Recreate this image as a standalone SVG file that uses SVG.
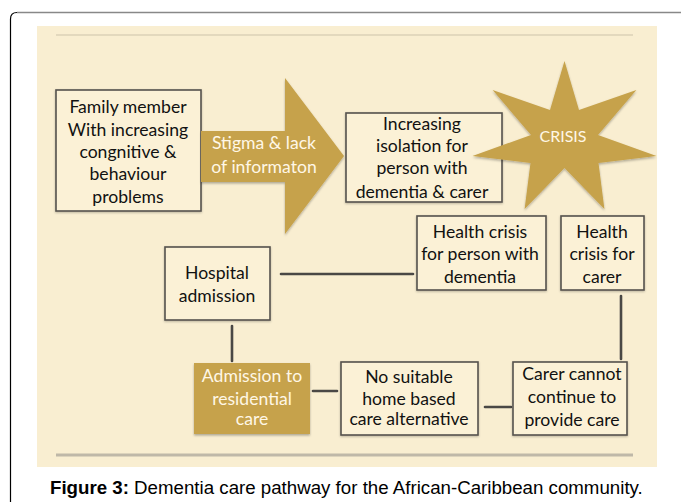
<svg xmlns="http://www.w3.org/2000/svg" width="681" height="502" viewBox="0 0 681 502">
<defs>
<filter id="sh" x="-10%" y="-10%" width="120%" height="130%">
<feDropShadow dx="0" dy="1.5" stdDeviation="1" flood-color="#000" flood-opacity="0.3"/>
</filter>
<filter id="sh2" x="-10%" y="-10%" width="120%" height="130%">
<feDropShadow dx="0" dy="1" stdDeviation="1" flood-color="#000" flood-opacity="0.25"/>
</filter>
</defs>
<style>
.box{fill:#fbf1d6;stroke:#55524d;stroke-width:1.6;filter:url(#sh2)}
.gold{fill:#c6a24b}
.t{font-family:Lato,"Open Sans",sans-serif;font-size:17.6px;fill:#111;text-anchor:middle}
.w{fill:#fff7e6}
.con{stroke:#4a4845;stroke-width:2.6;stroke-linecap:round;fill:none}
</style>
<rect width="681" height="502" fill="#fff"/>
<path d="M10.5 502 V19 Q10.5 12.5 17 12.5 H681" fill="none" stroke="#000" stroke-width="1.2"/>
<path d="M17 12.5 H681" fill="none" stroke="#888" stroke-width="1.6"/>
<rect x="37" y="26" width="620" height="441" fill="#f9eed1"/>
<line x1="56" y1="35" x2="633" y2="35" stroke="#cdc3aa" stroke-width="1"/>
<line x1="56" y1="455" x2="633" y2="455" stroke="#bfb8a8" stroke-width="3"/>

<g id="connectors">
<path class="con" d="M281 274 H413"/>
<path class="con" d="M232 326 V361"/>
<path class="con" d="M313 391 H337"/>
<path class="con" d="M485 407 H511"/>
<path class="con" d="M621 296 V359"/>
</g>

<g id="family">
<rect class="box" x="56" y="90" width="145" height="121"/>
<text class="t" x="128" y="113">Family member</text>
<text class="t" x="128" y="136">With increasing</text>
<text class="t" x="128" y="158">congnitive &amp;</text>
<text class="t" x="128" y="180">behaviour</text>
<text class="t" x="128" y="203">problems</text>
</g>

<g id="stigma">
<path class="gold" filter="url(#sh)" d="M201 131 H285 V78 L344 156 L285 234 V182 H201 Z"/>
<text class="t w" x="264" y="149">Stigma &amp; lack</text>
<text class="t w" x="264" y="173">of informaton</text>
</g>

<g id="isolation">
<rect class="box" x="346" y="113" width="156" height="89"/>
<text class="t" x="422" y="130">Increasing</text>
<text class="t" x="422" y="152">isolation for</text>
<text class="t" x="422" y="174">person with</text>
<text class="t" x="422" y="198">dementia &amp; carer</text>
</g>

<g id="crisis">
<polygon class="gold" filter="url(#sh)" points="564.5,61 579,110 636.4,90.1 598,135 656.5,156 598.5,163 604.4,209 564.5,168 524.6,209 530.5,163 472.5,156 531,135 492.6,90.1 550,110"/>
<text class="t w" x="563" y="142" style="font-size:16px">CRISIS</text>
</g>

<g id="health-person">
<rect class="box" x="417" y="216" width="129" height="74"/>
<text class="t" x="480" y="238">Health crisis</text>
<text class="t" x="480" y="260">for person with</text>
<text class="t" x="480" y="283">dementia</text>
</g>

<g id="health-carer">
<rect class="box" x="561" y="216" width="83" height="74"/>
<text class="t" x="602" y="238">Health</text>
<text class="t" x="602" y="260">crisis for</text>
<text class="t" x="602" y="283">carer</text>
</g>

<g id="hospital">
<rect class="box" x="165" y="247" width="105" height="73"/>
<text class="t" x="217" y="279">Hospital</text>
<text class="t" x="217" y="302">admission</text>
</g>

<g id="residential">
<rect class="gold" filter="url(#sh)" x="194" y="363" width="116" height="71"/>
<text class="t w" x="252" y="382">Admission to</text>
<text class="t w" x="252" y="405">residential</text>
<text class="t w" x="252" y="425">care</text>
</g>

<g id="nosuitable">
<rect class="box" x="341" y="362" width="137" height="73"/>
<text class="t" x="409" y="383">No suitable</text>
<text class="t" x="409" y="405">home based</text>
<text class="t" x="409" y="425">care alternative</text>
</g>

<g id="carer-cannot">
<rect class="box" x="513" y="362" width="114" height="73"/>
<text class="t" x="572" y="380">Carer cannot</text>
<text class="t" x="572" y="403">continue to</text>
<text class="t" x="572" y="426">provide care</text>
</g>

<text x="50" y="494" style="font-family:'Liberation Sans',Arial,sans-serif;font-size:18.7px;fill:#000"><tspan font-weight="bold">Figure 3:</tspan> Dementia care pathway for the African-Caribbean community.</text>
</svg>
